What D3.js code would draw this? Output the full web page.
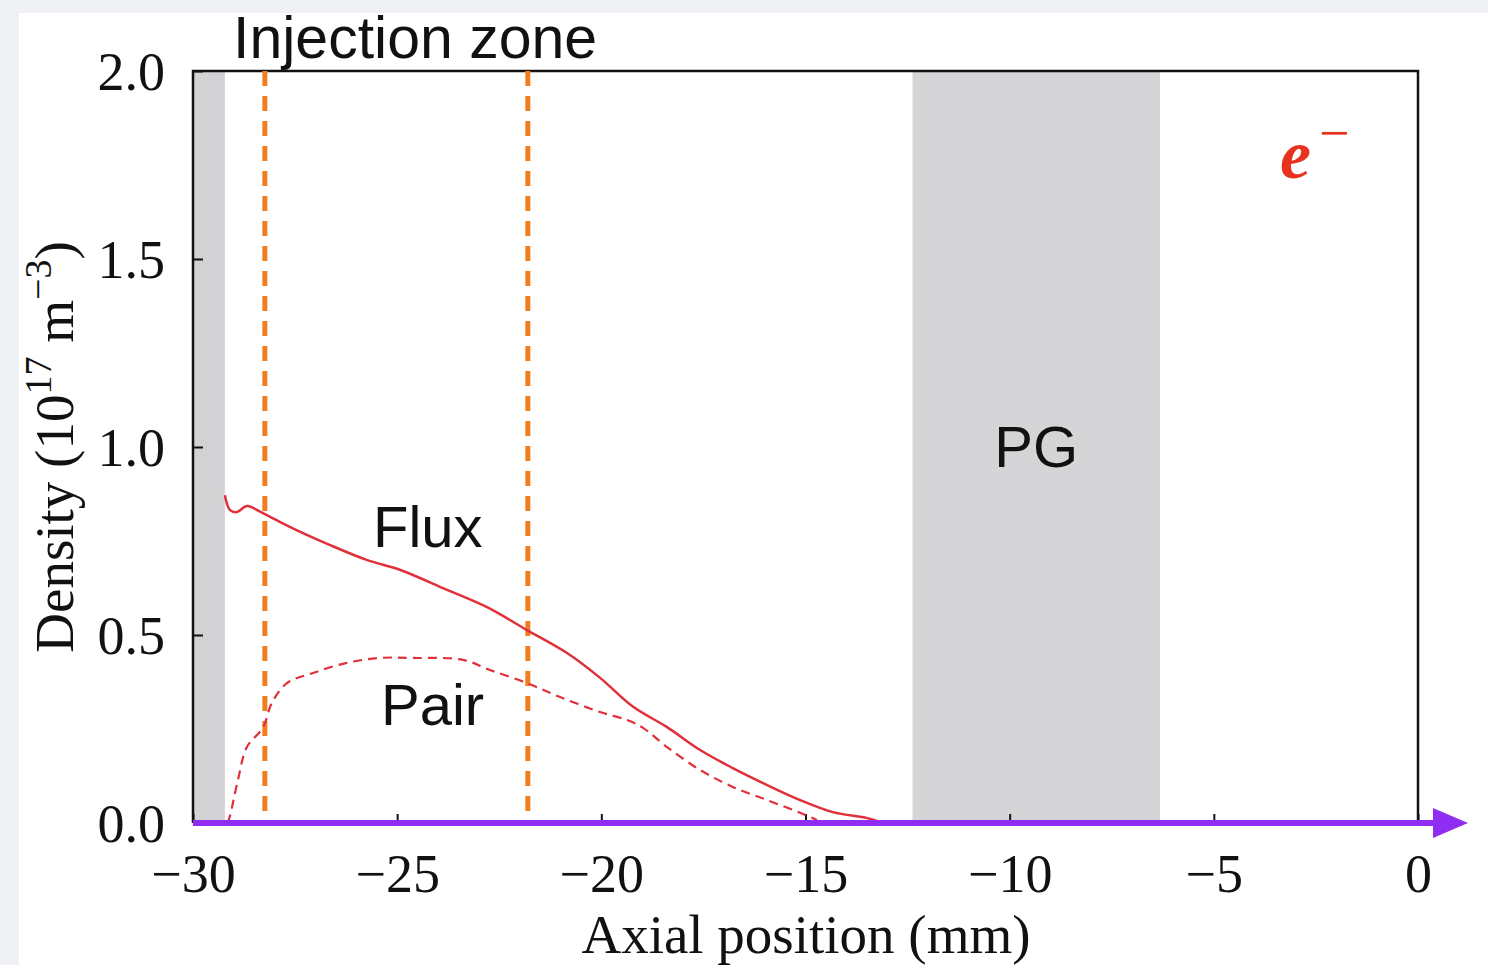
<!DOCTYPE html>
<html>
<head>
<meta charset="utf-8">
<script src="https://cdn.jsdelivr.net/npm/d3@7"></script>
<style>
  html, body { margin: 0; padding: 0; background: #eff1f4; }
  svg { display: block; }
</style>
</head>
<body>
<svg id="chart" width="1488" height="965"></svg>
<script>
// Electron density profiles along the axis (units of 1e17 m^-3)
const fluxX = [-29.22, -29.09, -28.92, -28.68, -28.29, -27.62, -26.64, -25.73, -24.92, -23.78, -22.80, -21.82, -20.84, -20.03, -19.22, -18.39, -17.58, -16.78, -15.94, -15.13, -14.33, -13.49, -13.18];
const fluxY = [0.872, 0.832, 0.827, 0.843, 0.824, 0.787, 0.739, 0.699, 0.673, 0.620, 0.574, 0.513, 0.452, 0.386, 0.309, 0.255, 0.194, 0.146, 0.101, 0.061, 0.029, 0.013, 0.003];

const pairX = [-29.15, -29.09, -28.90, -28.68, -28.29, -28.07, -27.70, -27.06, -26.23, -25.42, -24.61, -23.39, -22.73, -21.82, -21.01, -20.03, -19.37, -18.98, -18.39, -17.58, -16.78, -15.94, -15.13, -14.72];
const pairY = [0.0, 0.021, 0.114, 0.202, 0.253, 0.319, 0.372, 0.399, 0.426, 0.439, 0.439, 0.434, 0.407, 0.372, 0.335, 0.295, 0.274, 0.253, 0.202, 0.141, 0.096, 0.061, 0.027, 0.008];

// Shaded regions (mm)
const wallBand = [-30, -29.22];
const pgBand = [-12.38, -6.32];
// Injection zone boundaries (mm)
const injectionLines = [-28.24, -21.8];

const xTicks = [-30, -25, -20, -15, -10, -5, 0];
const yTicks = [0.0, 0.5, 1.0, 1.5, 2.0];

const svg = d3.select("#chart");
const W = 1488, H = 965;

// white panel
svg.append("rect").attr("x", 19).attr("y", 13).attr("width", W - 19).attr("height", H - 13).attr("fill", "#ffffff");

const x = d3.scaleLinear().domain([-30, 0]).range([193, 1418]);
const y = d3.scaleLinear().domain([0, 2]).range([823, 71]);

// shaded bands
svg.append("rect")
  .attr("x", x(wallBand[0])).attr("y", y(2))
  .attr("width", x(wallBand[1]) - x(wallBand[0])).attr("height", y(0) - y(2))
  .attr("fill", "#d2d1d4");
svg.append("rect")
  .attr("x", x(pgBand[0])).attr("y", y(2))
  .attr("width", x(pgBand[1]) - x(pgBand[0])).attr("height", y(0) - y(2))
  .attr("fill", "#d5d4d7");

const sans = "'Liberation Sans', Arial, sans-serif";
const serif = "'Liberation Serif', 'Times New Roman', serif";

svg.append("text").attr("x", x((pgBand[0] + pgBand[1]) / 2)).attr("y", 467)
  .attr("text-anchor", "middle").attr("font-family", sans).attr("font-size", 58)
  .attr("fill", "#111").text("PG");

// axes (ticks pointing inward)
const fmt = d => (d < 0 ? "\u2212" + Math.abs(d) : String(d));
const xAxis = svg.append("g").attr("transform", `translate(0,${y(0)})`)
  .call(d3.axisBottom(x).tickValues(xTicks).tickFormat(fmt).tickSizeInner(-9).tickSizeOuter(0).tickPadding(30));
const yAxis = svg.append("g").attr("transform", `translate(${x(-30)},0)`)
  .call(d3.axisLeft(y).tickValues(yTicks).tickFormat(d3.format(".1f")).tickSizeInner(-10).tickSizeOuter(0).tickPadding(28));
[xAxis, yAxis].forEach(g => {
  g.select(".domain").remove();
  g.selectAll(".tick line").attr("stroke", "#111").attr("stroke-width", 2);
  g.selectAll("text").attr("font-family", serif).attr("font-size", 54).attr("fill", "#111");
});
yAxis.selectAll("text").attr("dy", "0.34em");
xAxis.selectAll("text").attr("y", 69).attr("dy", 0);

// frame
svg.append("path")
  .attr("d", `M${x(-30)},${y(0)} V${y(2)} H${x(0)} V${y(0)}`)
  .attr("fill", "none").attr("stroke", "#111").attr("stroke-width", 2.5);

// injection zone markers
injectionLines.forEach(v => {
  svg.append("line").attr("x1", x(v)).attr("x2", x(v)).attr("y1", y(2)).attr("y2", y(0))
    .attr("stroke", "#f07d1e").attr("stroke-width", 5).attr("stroke-dasharray", "15,10");
});

// density curves
const line = d3.line().x(d => x(d[0])).y(d => y(d[1])).curve(d3.curveCatmullRom.alpha(0.5));
svg.append("path").datum(fluxX.map((v, i) => [v, fluxY[i]]))
  .attr("d", line).attr("fill", "none").attr("stroke", "#e0303a").attr("stroke-width", 2.5);
svg.append("path").datum(pairX.map((v, i) => [v, pairY[i]]))
  .attr("d", line).attr("fill", "none").attr("stroke", "#e0303a").attr("stroke-width", 2.2)
  .attr("stroke-dasharray", "9,6");

// axis arrow
const purple = "#8f2ef2";
svg.append("line").attr("x1", x(-30)).attr("x2", 1440).attr("y1", y(0)).attr("y2", y(0))
  .attr("stroke", purple).attr("stroke-width", 6);
svg.append("path").attr("d", `M1433,808 L1468,823 L1433,838 Z`).attr("fill", purple);

// labels
svg.append("text").attr("x", 233).attr("y", 58).attr("font-family", sans).attr("font-size", 59)
  .attr("fill", "#111").text("Injection zone");
svg.append("text").attr("x", 373).attr("y", 547).attr("font-family", sans).attr("font-size", 58)
  .attr("fill", "#111").text("Flux");
svg.append("text").attr("x", 381).attr("y", 725).attr("font-family", sans).attr("font-size", 58)
  .attr("fill", "#111").text("Pair");

svg.append("text").attr("x", 1280).attr("y", 178).attr("font-family", serif)
  .attr("font-size", 70).attr("font-style", "italic").attr("font-weight", "bold")
  .attr("fill", "#e8321e").text("e");
svg.append("text").attr("x", 1319).attr("y", 151).attr("font-family", serif)
  .attr("font-size", 54).attr("fill", "#e8321e").text("\u2212");

svg.append("text").attr("x", 806).attr("y", 953).attr("text-anchor", "middle")
  .attr("font-family", serif).attr("font-size", 55).attr("fill", "#111").text("Axial position (mm)");

const yl = svg.append("text").attr("transform", `translate(73,${y(1)}) rotate(-90)`)
  .attr("text-anchor", "middle").attr("font-family", serif).attr("font-size", 55).attr("fill", "#111");
yl.append("tspan").text("Density (10");
yl.append("tspan").attr("font-size", 38).attr("dy", -22).text("17");
yl.append("tspan").attr("dy", 22).text(" m");
yl.append("tspan").attr("font-size", 38).attr("dy", -22).text("\u22123");
yl.append("tspan").attr("dy", 22).text(")");
</script>
</body>
</html>
